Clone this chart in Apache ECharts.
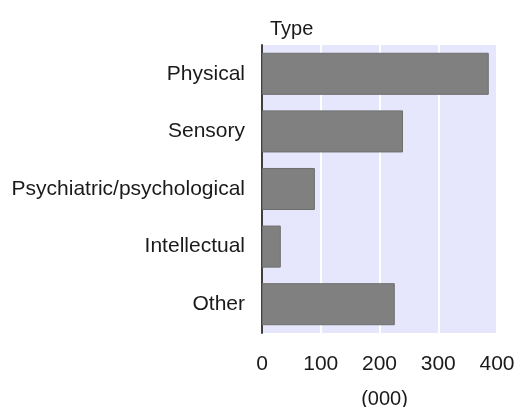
<!DOCTYPE html>
<html>
<head>
<meta charset="utf-8">
<script src="https://cdn.jsdelivr.net/npm/echarts@6/dist/echarts.min.js"></script>
<style>
  html, body { margin: 0; padding: 0; background: #fff; }
  #chart { width: 514px; height: 407px; }
</style>
</head>
<body>
<div id="chart"></div>
<script>
// Datos
const categorias = ['Physical', 'Sensory', 'Psychiatric/psychological', 'Intellectual', 'Other'];
const valores = [386, 240, 90, 32, 226];
const ticksX = [0, 100, 200, 300, 400];

const fuente = '"Liberation Sans", Arial, sans-serif';
const chart = echarts.init(document.getElementById('chart'));

chart.setOption({
    animation: false,
    title: {
        text: 'Type',
        left: 265,
        top: 14,
        textStyle: { fontFamily: fuente, fontSize: 20, fontWeight: 'normal', color: '#1a1a1a' }
    },
    grid: {
        left: 262, right: 17, top: 45, bottom: 74,
        outerBoundsMode: 'none',
        containLabel: false,
        show: true,
        backgroundColor: '#e6e6fc',
        borderWidth: 0
    },
    xAxis: {
        type: 'value',
        min: ticksX[0],
        max: ticksX[ticksX.length - 1],
        interval: 100,
        name: '(000)',
        nameLocation: 'middle',
        nameGap: 56,
        nameTextStyle: { fontFamily: fuente, fontSize: 20, color: '#1a1a1a', padding: [0, 0, 0, 10] },
        axisLine: { show: false },
        axisTick: { show: false },
        axisLabel: { fontFamily: fuente, fontSize: 21, color: '#1a1a1a', margin: 21 },
        splitLine: { show: true, lineStyle: { color: '#ffffff', width: 2 } }
    },
    yAxis: {
        type: 'category',
        data: categorias,
        inverse: true,
        axisLine: { show: true, lineStyle: { color: '#404040', width: 2 } },
        axisTick: { show: false },
        axisLabel: { fontFamily: fuente, fontSize: 21, color: '#1a1a1a', margin: 17 },
        splitLine: { show: false }
    },
    series: [{
        type: 'bar',
        data: valores,
        barCategoryGap: '27%',
        itemStyle: { color: '#808080', borderColor: '#6e6e6e', borderWidth: 1 }
    }]
});
</script>
</body>
</html>
